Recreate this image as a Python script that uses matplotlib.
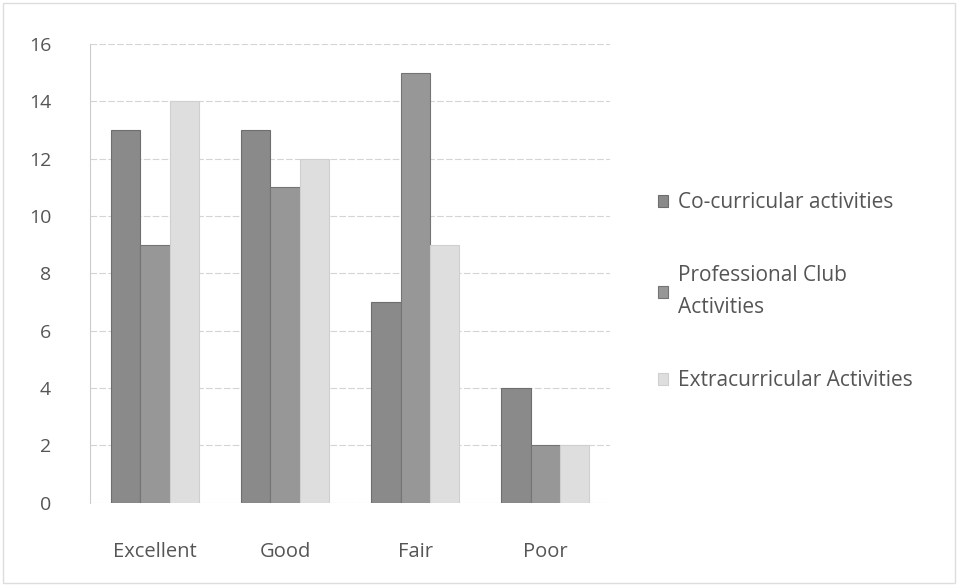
import numpy as np
import matplotlib.pyplot as plt

categories = ['Excellent', 'Good', 'Fair', 'Poor']
series_names = ['Co-curricular activities', 'Professional Club\nActivities', 'Extracurricular Activities']
co_curricular = [13, 13, 7, 4]
professional = [9, 11, 15, 2]
extracurricular = [14, 12, 9, 2]

plt.rcParams['font.family'] = ['Open Sans', 'DejaVu Sans']

fig = plt.figure(figsize=(9.58, 5.86), dpi=100)
ax = fig.add_axes([0.094, 0.142, 0.543, 0.783])

x = np.arange(len(categories))
w = 0.225
colors = ['#8a8a8a', '#979797', '#dedede']
edges = ['#6e6e6e', '#747474', '#cfcfcf']
for i, (vals, name) in enumerate(zip([co_curricular, professional, extracurricular], series_names)):
    ax.bar(x + (i - 1) * w, vals, w, color=colors[i], edgecolor=edges[i], linewidth=0.8,
           label=name, zorder=3)

ax.set_xlim(-0.5, 3.5)
ax.set_ylim(0, 16)
ax.set_yticks(range(0, 17, 2))
ax.set_xticks(x)
ax.set_xticklabels(categories)
ax.grid(axis='y', color='#d4d4d4', linewidth=0.8, linestyle=(0, (6, 2)), zorder=0)
for s in ['top', 'right', 'bottom']:
    ax.spines[s].set_visible(False)
ax.spines['left'].set_color('#cccccc')
ax.tick_params(axis='y', length=0, pad=28, labelsize=14, labelcolor='#555555')
ax.tick_params(axis='x', length=0, pad=28, labelsize=14.5, labelcolor='#555555')

leg = ax.legend(loc='center left', bbox_to_anchor=(1.055, 0.46), frameon=False,
                fontsize=15, labelspacing=2.5, handlelength=0.5, handleheight=0.5,
                handletextpad=0.5, labelcolor='#555555')
for t in leg.get_texts():
    t.set_linespacing(1.7)

# faint border around the chart
fig.patches.append(plt.Rectangle((0.003, 0.005), 0.994, 0.99, transform=fig.transFigure,
                                 fill=False, edgecolor='#dddddd', linewidth=1))

plt.savefig('out.png', dpi=100)
